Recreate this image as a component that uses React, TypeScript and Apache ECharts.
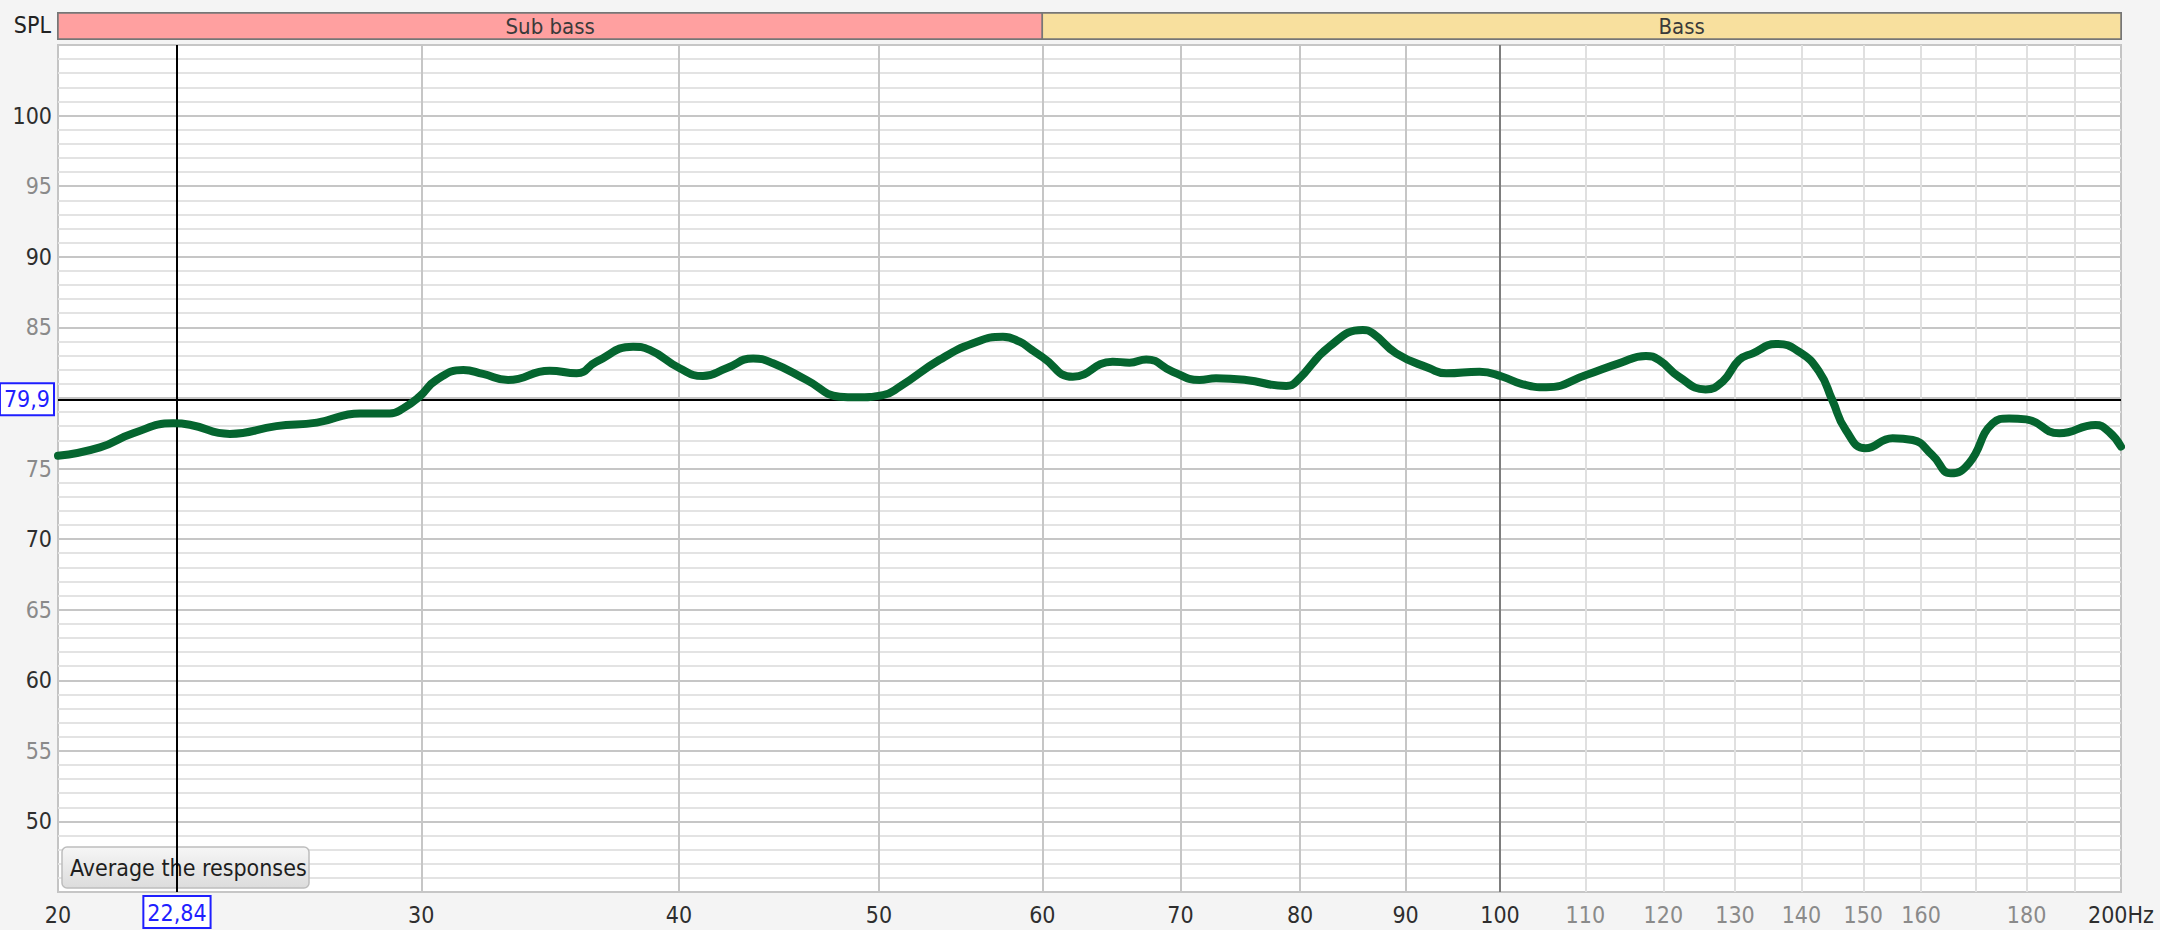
import React, { useEffect, useRef } from 'react';
import * as echarts from 'echarts';

// Frequency response (Hz, dB SPL)
const freqHz = [20, 20.96, 21.75, 22.75, 23.17, 24.23, 25.52, 26.7, 28.02, 28.96, 29.4, 29.94, 30.51, 31.44, 32.14, 33.05, 34.62, 35.68, 36.48, 38.0, 38.71, 40.03, 41.08, 42.17, 43.45, 44.43, 46.12, 47.86, 48.76, 50.22, 51.18, 53.5, 55.54, 57.42, 58.5, 59.3, 60.0, 62.08, 64.9, 66.13, 67.38, 69.4, 71.5, 72.84, 75.32, 78.77, 79.65, 82.66, 85.8, 86.77, 89.06, 92.43, 94.17, 97.74, 100.3, 102.4, 105.3, 110.1, 114.2, 117.7, 119.4, 122.1, 125.8, 128.2, 130.6, 132.6, 136.1, 139.6, 142.8, 144.9, 147.1, 150.4, 155.0, 158.5, 162.0, 165.4, 168.8, 173.3, 176.5, 179.9, 186.7, 194.4, 197.3, 200];
const splDb = [75.9, 76.5, 77.5, 78.2, 78.1, 77.45, 78.0, 78.25, 78.9, 78.9, 79.26, 80.09, 81.27, 81.98, 81.7, 81.27, 81.93, 81.74, 82.57, 83.63, 83.4, 82.1, 81.55, 82.1, 82.8, 82.45, 81.27, 80.09, 80.04, 80.2, 80.8, 82.7, 83.87, 84.34, 83.98, 83.4, 82.9, 81.5, 82.57, 82.5, 82.73, 81.86, 81.27, 81.39, 81.27, 80.85, 81.15, 83.63, 84.81, 84.58, 83.16, 82.1, 81.74, 81.86, 81.5, 81.0, 80.75, 81.62, 82.45, 82.97, 82.69, 81.5, 80.6, 81.15, 82.69, 83.16, 83.82, 83.28, 81.86, 79.85, 77.73, 76.43, 77.14, 77.02, 75.96, 74.66, 75.37, 78.2, 78.55, 78.48, 77.49, 78.08, 77.61, 76.55];

// Axes
const xMin = 20;
const xMax = 200;
const yMin = 45;
const yMax = 105;
const xLabelValues = [20, 30, 40, 50, 60, 70, 80, 90, 100, 110, 120, 130, 140, 150, 160, 180, 200];
const xGridValues = [30, 40, 50, 60, 70, 80, 90, 100, 110, 120, 130, 140, 150, 160, 170, 180, 190];
const xDarkLabels = [20, 30, 40, 50, 60, 70, 80, 90, 100, 200];
const yLabelValues = [50, 55, 60, 65, 70, 75, 85, 90, 95, 100];

// Frequency bands
const bandNames = ['Sub bass', 'Bass'];
const bandStarts = [20, 60];
const bandEnds = [60, 250];
const bandColors = ['#ffa0a0', '#f8e09e'];

// Cursor
const cursorFreq = 22.84;
const cursorLevel = 79.9;
const cursorFreqText = '22,84';
const cursorLevelText = '79,9';

const FONT = "'Liberation Sans Narrow', 'Arial Narrow', 'DejaVu Sans Condensed', sans-serif";

function gridColor(v: number) {
  if (v === 100) return '#7d7d7d';
  if (v < 100) return '#c6c6c6';
  return '#e0e0e0';
}

export default function App() {
  const ref = useRef<HTMLDivElement>(null);

  useEffect(() => {
    if (!ref.current) return;
    const chart = echarts.init(ref.current, undefined, { renderer: 'svg' });

    const cursorLabel = {
      show: true,
      position: 'start',
      distance: 5,
      color: '#1f1fff',
      fontFamily: FONT,
      fontSize: 23,
      backgroundColor: '#ffffff',
      borderColor: '#1f1fff',
      borderWidth: 2,
      padding: [4, 3, 3, 3],
    };

    const option: any = {
      animation: false,
      backgroundColor: '#f4f4f4',
      grid: [
        {
          left: 58, right: 39, top: 45, bottom: 38,
          show: true, backgroundColor: '#ffffff', borderColor: '#c4c4c4', borderWidth: 2,
        },
        {
          left: 58, right: 39, top: 13, height: 26,
          show: true, backgroundColor: 'transparent', borderColor: '#777777', borderWidth: 2,
        },
      ],
      xAxis: [
        {
          type: 'log', logBase: 10, min: xMin, max: xMax, gridIndex: 0,
          axisLine: { show: false },
          axisTick: { show: false },
          splitLine: { show: false },
          minorSplitLine: { show: false },
          axisLabel: {
            customValues: xLabelValues,
            margin: 11,
            fontFamily: FONT,
            fontSize: 23,
            hideOverlap: false,
            showMinLabel: true,
            showMaxLabel: true,
            formatter: (v: number) => (Math.round(v) === xMax ? `${Math.round(v)}Hz` : `${Math.round(v)}`),
            color: (v: any) => (xDarkLabels.includes(Math.round(Number(v))) ? '#2e2e2e' : '#8a8a8a'),
          },
        },
        {
          type: 'log', logBase: 10, min: xMin, max: xMax, gridIndex: 1, show: false,
        },
      ],
      yAxis: [
        {
          type: 'value', min: yMin, max: yMax, interval: 1, gridIndex: 0,
          axisLine: { show: false },
          axisTick: { show: false },
          splitLine: {
            show: true,
            lineStyle: { color: ['#c6c6c6', '#e3e3e3', '#e3e3e3', '#e3e3e3', '#e3e3e3'], width: 2 },
          },
          axisLabel: {
            margin: 6,
            fontFamily: FONT,
            fontSize: 23,
            formatter: (v: number) => (yLabelValues.includes(v) ? `${v}` : ''),
            color: (v: any) => (Number(v) % 10 === 0 ? '#2e2e2e' : '#8a8a8a'),
          },
        },
        { type: 'value', min: 0, max: 1, gridIndex: 1, show: false },
      ],
      series: [
        {
          type: 'line', name: 'grid', xAxisIndex: 0, yAxisIndex: 0, data: [], silent: true, z: 1,
          markLine: {
            z: 1, silent: true, symbol: ['none', 'none'], label: { show: false },
            data: xGridValues.map((v) => ({ xAxis: v, lineStyle: { color: gridColor(v), width: 2, type: 'solid' } })),
          },
        },
        {
          type: 'line', name: 'cursor', xAxisIndex: 0, yAxisIndex: 0, data: [], silent: true, z: 2,
          markLine: {
            z: 2, silent: true, symbol: ['none', 'none'],
            lineStyle: { color: '#000000', width: 2, type: 'solid' },
            data: [
              { yAxis: cursorLevel, label: { ...cursorLabel, formatter: cursorLevelText } },
              { xAxis: cursorFreq, label: { ...cursorLabel, formatter: cursorFreqText } },
            ],
          },
        },
        {
          type: 'line', name: 'SPL', xAxisIndex: 0, yAxisIndex: 0, z: 3,
          data: freqHz.map((f, i) => [f, splDb[i]]),
          showSymbol: false, smooth: 0.5,
          lineStyle: { color: '#05652f', width: 8, cap: 'round', join: 'round' },
        },
        {
          type: 'line', name: 'bands', xAxisIndex: 1, yAxisIndex: 1, data: [], silent: true,
          markArea: {
            silent: true,
            label: { show: false },
            data: bandNames.map((n, i) => [
              { xAxis: bandStarts[i], itemStyle: { color: bandColors[i], borderColor: '#777777', borderWidth: 1.5 } },
              { xAxis: Math.min(bandEnds[i], xMax) },
            ]),
          },
        },
      ],
    };

    chart.setOption(option);

    const bandLabels = bandNames.map((n, i) => {
      const a = chart.convertToPixel({ xAxisIndex: 1 }, bandStarts[i]) as number;
      const b = chart.convertToPixel({ xAxisIndex: 1 }, bandEnds[i]) as number;
      return {
        type: 'text',
        x: (a + b) / 2,
        y: 26,
        z: 10,
        style: {
          text: n, fill: '#3a3a3a', font: `22px ${FONT}`,
          align: 'center', verticalAlign: 'middle', textAlign: 'center', textVerticalAlign: 'middle',
        },
      };
    });

    chart.setOption({
      graphic: {
        elements: [
          ...bandLabels,
          {
            type: 'text', x: 51, y: 25, z: 10,
            style: {
              text: 'SPL', fill: '#222222', font: `23px ${FONT}`,
              align: 'right', verticalAlign: 'middle', textAlign: 'right', textVerticalAlign: 'middle',
            },
          },
          {
            type: 'group', x: 62, y: 847, z: 20,
            children: [
              {
                type: 'rect',
                shape: { x: 0, y: 0, width: 247, height: 41, r: 5 },
                style: {
                  fill: new echarts.graphic.LinearGradient(0, 0, 0, 1, [
                    { offset: 0, color: '#f6f6f6' },
                    { offset: 1, color: '#dcdcdc' },
                  ]),
                  stroke: '#bdbdbd', lineWidth: 1.5,
                },
              },
              {
                type: 'text', x: 8, y: 21,
                style: {
                  text: 'Average the responses', fill: '#1e1e1e', font: `23px ${FONT}`,
                  align: 'left', verticalAlign: 'middle', textAlign: 'left', textVerticalAlign: 'middle',
                },
              },
            ],
          },
        ],
      },
    });

    return () => chart.dispose();
  }, []);

  return (
    <div
      ref={ref}
      style={{ position: 'fixed', left: 0, top: 0, width: 2160, height: 930, background: '#f4f4f4' }}
    />
  );
}
